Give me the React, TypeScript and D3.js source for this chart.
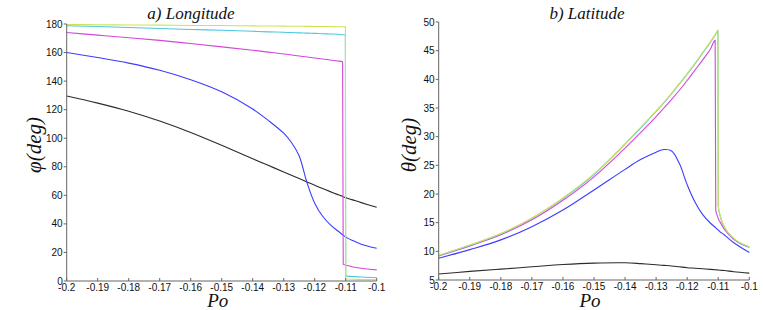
import * as d3 from "d3";

// Po grid (denser near the switch at -0.11)
const po = [
  -0.2, -0.19, -0.18, -0.17, -0.16, -0.15, -0.14, -0.135, -0.13, -0.1275, -0.125, -0.1225,
  -0.12, -0.1175, -0.115, -0.1125, -0.111, -0.1108, -0.1101, -0.11, -0.1095, -0.108, -0.105, -0.1,
];

// a) Longitude, phi (deg)
const lonBlack = [
  129.6, 124.6, 118.9, 112.0, 104.0, 95.0, 85.6, 81.0, 76.4, 74.1, 71.8, 69.4,
  67.0, 64.8, 62.6, 60.5, 59.2, 59.0, 58.5, 58.4, 58.0, 57.0, 54.9, 51.6,
];
const lonBlue = [
  160, 156.5, 152.6, 147.6, 141, 132.5, 120.5, 112.5, 103.5, 97, 87.5, 69,
  54.5, 45.5, 39.5, 35, 32.4, 32.1, 31.0, 30.8, 30.2, 28.6, 25.8, 22.9,
];
const lonMagenta = [
  174, 172.2, 170.4, 168.5, 166.3, 164, 161.6, 160.3, 159, 158.3, 157.6, 156.9,
  156.2, 155.5, 154.8, 154.1, 153.6, 11.7, 11.2, 11.1, 10.8, 10.0, 8.9, 7.8,
];
const lonCyan = [
  178.8, 178.2, 177.5, 176.9, 176.2, 175.6, 174.9, 174.5, 174.2, 174.0, 173.8, 173.6,
  173.4, 173.2, 173.0, 172.8, 172.5, 172.5, 172.3, 3.5, 3.4, 3.2, 2.8, 2.3,
];
const lonYellow = [
  179.6, 179.5, 179.3, 179.2, 179.0, 178.9, 178.7, 178.6, 178.5, 178.45, 178.4, 178.35,
  178.3, 178.25, 178.2, 178.1, 178.05, 178.05, 178.0, 1.4, 1.35, 1.25, 1.1, 0.9,
];

// b) Latitude, theta (deg)
const latBlack = [
  6.05, 6.5, 6.9, 7.3, 7.7, 7.95, 8.0, 7.85, 7.65, 7.55, 7.45, 7.3,
  7.15, 7.05, 6.95, 6.85, 6.8, 6.8, 6.75, 6.75, 6.7, 6.65, 6.45, 6.2,
];
const latBlue = [
  8.8, 10.3, 12.0, 14.3, 17.2, 20.7, 24.3, 26.0, 27.3, 27.75, 27.5, 25.3,
  21.6, 18.6, 16.4, 14.9, 14.2, 14.1, 13.75, 13.7, 13.45, 12.85, 11.5, 9.8,
];
const latMagenta = [
  9.2, 10.95, 12.9, 15.5, 18.9, 23.0, 28.0, 30.7, 33.5, 35.0, 36.5, 38.1,
  39.8, 41.6, 43.4, 45.3, 46.8, 17.2, 15.9, 15.7, 15.2, 13.8, 12.1, 10.7,
];
const latCyan = [
  9.25, 11.05, 13.05, 15.75, 19.2, 23.4, 28.7, 31.5, 34.4, 35.9, 37.5, 39.2,
  40.9, 42.7, 44.6, 46.5, 47.7, 47.9, 48.5, 17.9, 16.4, 14.2, 12.2, 10.75,
];
const latYellow = [
  9.3, 11.1, 13.1, 15.8, 19.3, 23.5, 28.8, 31.6, 34.5, 36.0, 37.6, 39.3,
  41.0, 42.8, 44.7, 46.6, 47.8, 48.0, 48.6, 18.0, 16.5, 14.3, 12.3, 10.8,
];

const xTicks = [-0.2, -0.19, -0.18, -0.17, -0.16, -0.15, -0.14, -0.13, -0.12, -0.11, -0.1];
const lonTicks = [0, 20, 40, 60, 80, 100, 120, 140, 160, 180];
const latTicks = [5, 10, 15, 20, 25, 30, 35, 40, 45, 50];

const seriesColors = ["#2b2b2b", "#3c3cff", "#d247d8", "#4cc6e2", "#cfe25a"];
// smooth series get a Catmull-Rom curve, the ones that jump at -0.11 keep monotone
const smoothSeries = [true, true, false, false, false];

interface PanelProps {
  x0: number;
  x1: number;
  yTop: number;
  yBottom: number;
  yDomain: [number, number];
  yTicks: number[];
  series: number[][];
  title: string;
  titleX: number;
  yLabel: string;
  yLabelX: number;
}

function Panel({ x0, x1, yTop, yBottom, yDomain, yTicks, series, title, titleX, yLabel, yLabelX }: PanelProps) {
  const x = d3.scaleLinear().domain([-0.2, -0.1]).range([x0, x1]);
  const y = d3.scaleLinear().domain(yDomain).range([yBottom, yTop]);
  const makeLine = (smooth: boolean) =>
    d3
      .line<number>()
      .x((_, i) => x(po[i]))
      .y((d) => y(d))
      .curve(smooth ? d3.curveCatmullRom.alpha(0.5) : d3.curveMonotoneX);

  return (
    <g>
      <text x={titleX} y={19} textAnchor="middle" fontFamily="Liberation Serif" fontStyle="italic" fontSize={17} fill="#111">
        {title}
      </text>

      {series.map((s, i) => (
        <path key={i} d={makeLine(smoothSeries[i])(s) ?? ""} fill="none" stroke={seriesColors[i]} strokeWidth={1.1} />
      ))}

      <line x1={x0} x2={x0} y1={yTop} y2={yBottom} stroke="#666" strokeWidth={1} />
      <line x1={x0} x2={x1} y1={yBottom} y2={yBottom} stroke="#666" strokeWidth={1} />

      {yTicks.map((t) => (
        <g key={t}>
          <line x1={x0 - 3} x2={x0} y1={y(t)} y2={y(t)} stroke="#666" />
          <text x={x0 - 4} y={y(t)} dy="0.35em" textAnchor="end" fontFamily="Liberation Sans" fontSize={10} fill="#111">
            {t}
          </text>
        </g>
      ))}

      {xTicks.map((t) => (
        <g key={t}>
          <line x1={x(t)} x2={x(t)} y1={yBottom} y2={yBottom - 3} stroke="#666" />
          <text x={x(t)} y={yBottom + 10} textAnchor="middle" fontFamily="Liberation Sans" fontSize={10} fill="#111">
            {String(t)}
          </text>
        </g>
      ))}

      <text x={(x0 + x1) / 2 - 4} y={307} textAnchor="middle" fontFamily="Liberation Serif" fontStyle="italic" fontSize={19} fill="#111">
        Po
      </text>
      <text
        transform={`translate(${yLabelX}, 145) rotate(-90)`}
        textAnchor="middle"
        fontFamily="Liberation Serif"
        fontStyle="italic"
        fontSize={21}
        fill="#111"
      >
        {yLabel}
      </text>
    </g>
  );
}

export default function App() {
  return (
    <svg
      width={763}
      height={310}
      viewBox="0 0 763 310"
      style={{ position: "absolute", left: 0, top: 0, background: "#fff" }}
    >
      <Panel
        x0={66.7}
        x1={376.7}
        yTop={24}
        yBottom={281}
        yDomain={[0, 180]}
        yTicks={lonTicks}
        series={[lonBlack, lonBlue, lonMagenta, lonCyan, lonYellow]}
        title="a) Longitude"
        titleX={191}
        yLabel="φ(deg)"
        yLabelX={41}
      />
      <Panel
        x0={438.7}
        x1={749.3}
        yTop={22}
        yBottom={280}
        yDomain={[5, 50]}
        yTicks={latTicks}
        series={[latBlack, latBlue, latMagenta, latCyan, latYellow]}
        title="b) Latitude"
        titleX={587}
        yLabel="θ(deg)"
        yLabelX={416}
      />
    </svg>
  );
}
